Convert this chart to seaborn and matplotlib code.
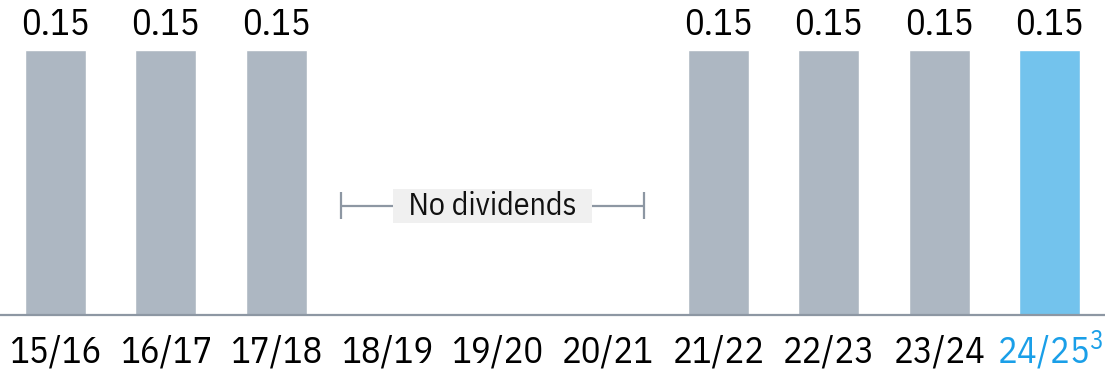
import numpy as np
import pandas as pd
import matplotlib
matplotlib.use("Agg")
import matplotlib.pyplot as plt
import seaborn as sns

seasons = ["15/16", "16/17", "17/18", "18/19", "19/20", "20/21", "21/22", "22/23", "23/24", "24/25"]
tick_labels = ["15/16", "16/17", "17/18", "18/19", "19/20", "20/21", "21/22", "22/23", "23/24",
               r"24/25$^{\mathrm{3}}$"]
dividends = [0.15, 0.15, 0.15, 0.0, 0.0, 0.0, 0.15, 0.15, 0.15, 0.15]
no_dividend_label = "No dividends"

GRAY = "#adb7c2"
BLUE = "#73c3ed"
LABEL_BLUE = "#1a9fe8"
AXIS = "#8d97a3"

sns.set_theme(style="white")
plt.rcParams["font.family"] = ["IBM Plex Sans Condensed", "DejaVu Sans"]
plt.rcParams["mathtext.fontset"] = "custom"
plt.rcParams["mathtext.rm"] = "IBM Plex Sans Condensed"
plt.rcParams["mathtext.it"] = "IBM Plex Sans Condensed"
plt.rcParams["mathtext.bf"] = "IBM Plex Sans Condensed"

df = pd.DataFrame({"season": seasons, "dividend": dividends})
colors = [BLUE if i == len(seasons) - 1 else GRAY for i in range(len(seasons))]

fig = plt.figure(figsize=(11.05, 3.71), dpi=100)
ax = fig.add_axes([0, 56 / 371, 1, 315 / 371])
sns.barplot(data=df, x="season", y="dividend", hue="season", palette=colors,
            legend=False, width=0.55, saturation=1, ax=ax)

ax.set_xlim(-0.5, 9.5)
ax.set_ylim(0, 0.1785)
for s in ["top", "left", "right"]:
    ax.spines[s].set_visible(False)
ax.spines["bottom"].set_color(AXIS)
ax.spines["bottom"].set_linewidth(1.6)
ax.set_yticks([])
ax.set_xlabel("")
ax.set_ylabel("")
ax.tick_params(axis="x", length=0, pad=34)
ax.set_xticks(range(len(seasons)))
ax.set_xticklabels(tick_labels, fontsize=26.5)
for lbl in ax.get_xticklabels():
    lbl.set_verticalalignment("baseline")
    lbl.set_color("#000000")
ax.get_xticklabels()[-1].set_color(LABEL_BLUE)

for i, v in enumerate(dividends):
    if v > 0:
        ax.text(i, v + 0.0042, f"{v:.2f}", ha="center", va="bottom", fontsize=26.5, color="#000000")

# "No dividends" bracket
gap = [i for i, v in enumerate(dividends) if v == 0]
x0 = gap[0] - 0.416
x1 = gap[-1] + 0.326
yb = 0.062
ax.plot([x0, x1], [yb, yb], color=AXIS, lw=1.6, solid_capstyle="butt")
ax.vlines([x0, x1], yb - 0.0077, yb + 0.0077, color=AXIS, lw=1.6)
ax.text((x0 + x1) / 2, yb, "  " + no_dividend_label + "  ", ha="center", va="center", fontsize=23,
        color="#111111",
        bbox=dict(boxstyle="square,pad=0.06", facecolor="#f0f0f0", edgecolor="none"))

fig.savefig("out.png", dpi=100)
